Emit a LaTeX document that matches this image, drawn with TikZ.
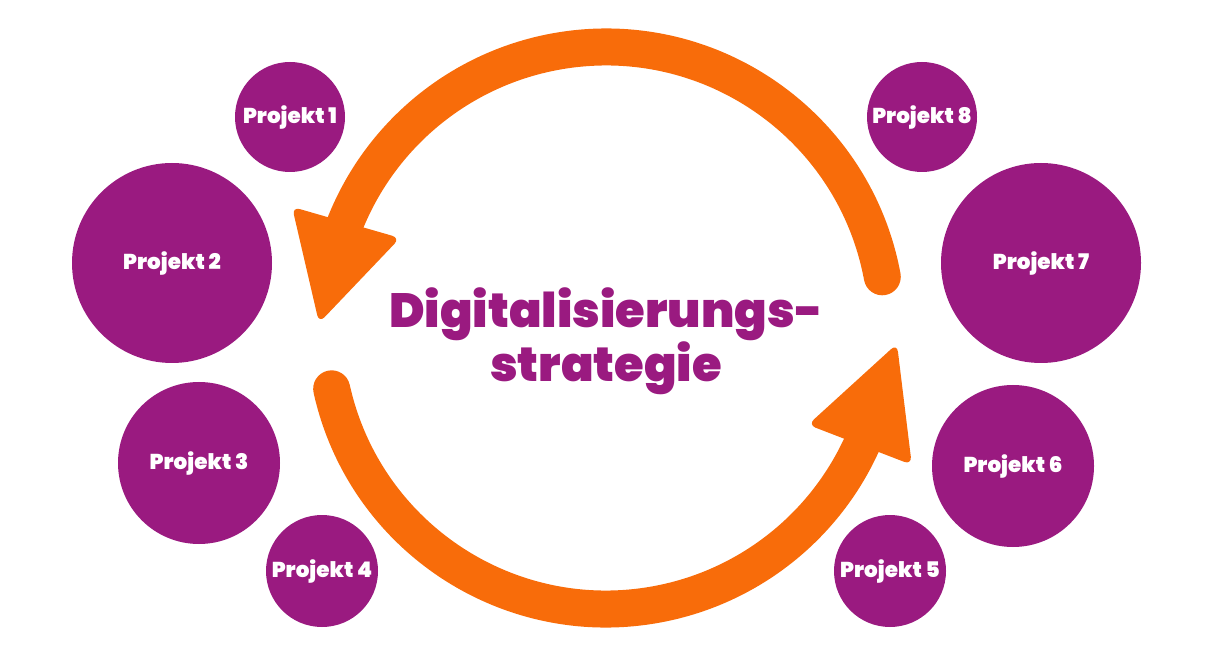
\documentclass[tikz,border=0pt]{standalone}
\usepackage{fontspec}
\setmainfont{Poppins}
\newfontfamily\schwer{Poppins Black}

\definecolor{lila}{RGB}{154,26,128}
\definecolor{pfeil}{RGB}{248,108,10}

\tikzset{
	projekt/.style = {circle, fill = lila, text = white, inner sep = 0pt,
		font = \fontsize{21.5}{24}\selectfont\schwer},
	titel/.style = {text = lila, inner sep = 0pt,
		font = \fontsize{48}{54}\selectfont\schwer},
	kreis/.style = {draw = pfeil, line width = 37pt, line cap = round},
	spitze/.style = {fill = pfeil, rounded corners = 8pt}
}

\begin{document}
\begin{tikzpicture}[x = 1pt, y = 1pt]

	\useasboundingbox (0, 0) rectangle (1206, 656);

	% Kreispfeile
	
	\coordinate (mitte) at (606, 328);
	
	\begin{scope}[shift = {(mitte)}]
		\draw [kreis] (10.5:281) arc [start angle = 10.5, end angle = 160, radius = 281];
		\fill [spitze] (158.9:336.5) -- (179:287) -- (156.4:224.8) -- cycle;
		
		\draw [kreis] (192.5:281) arc [start angle = 192.5, end angle = 338, radius = 281];
		\fill [spitze] (334.4:224) -- (356.9:291.4) -- (335.9:335) -- cycle;
	\end{scope}
	
	% Titel
	
	\node [titel, anchor = base] (titel1) at (606, 328) {Digitalisierungs-};
	\node [titel, anchor = base] (titel2) at (606, 274) {strategie};
	
	% Projekte
	
	\foreach \n/\x/\y/\d in {1/290/539/110, 2/172/393/200, 3/199/193/162, 4/322/85/112,
		5/890/85/112, 6/1013/190/162, 7/1041/393/200, 8/922/539/110}
		\node [projekt, minimum size = \d pt] (p\n) at (\x, \y) {Projekt \n};

\end{tikzpicture}
\end{document}
